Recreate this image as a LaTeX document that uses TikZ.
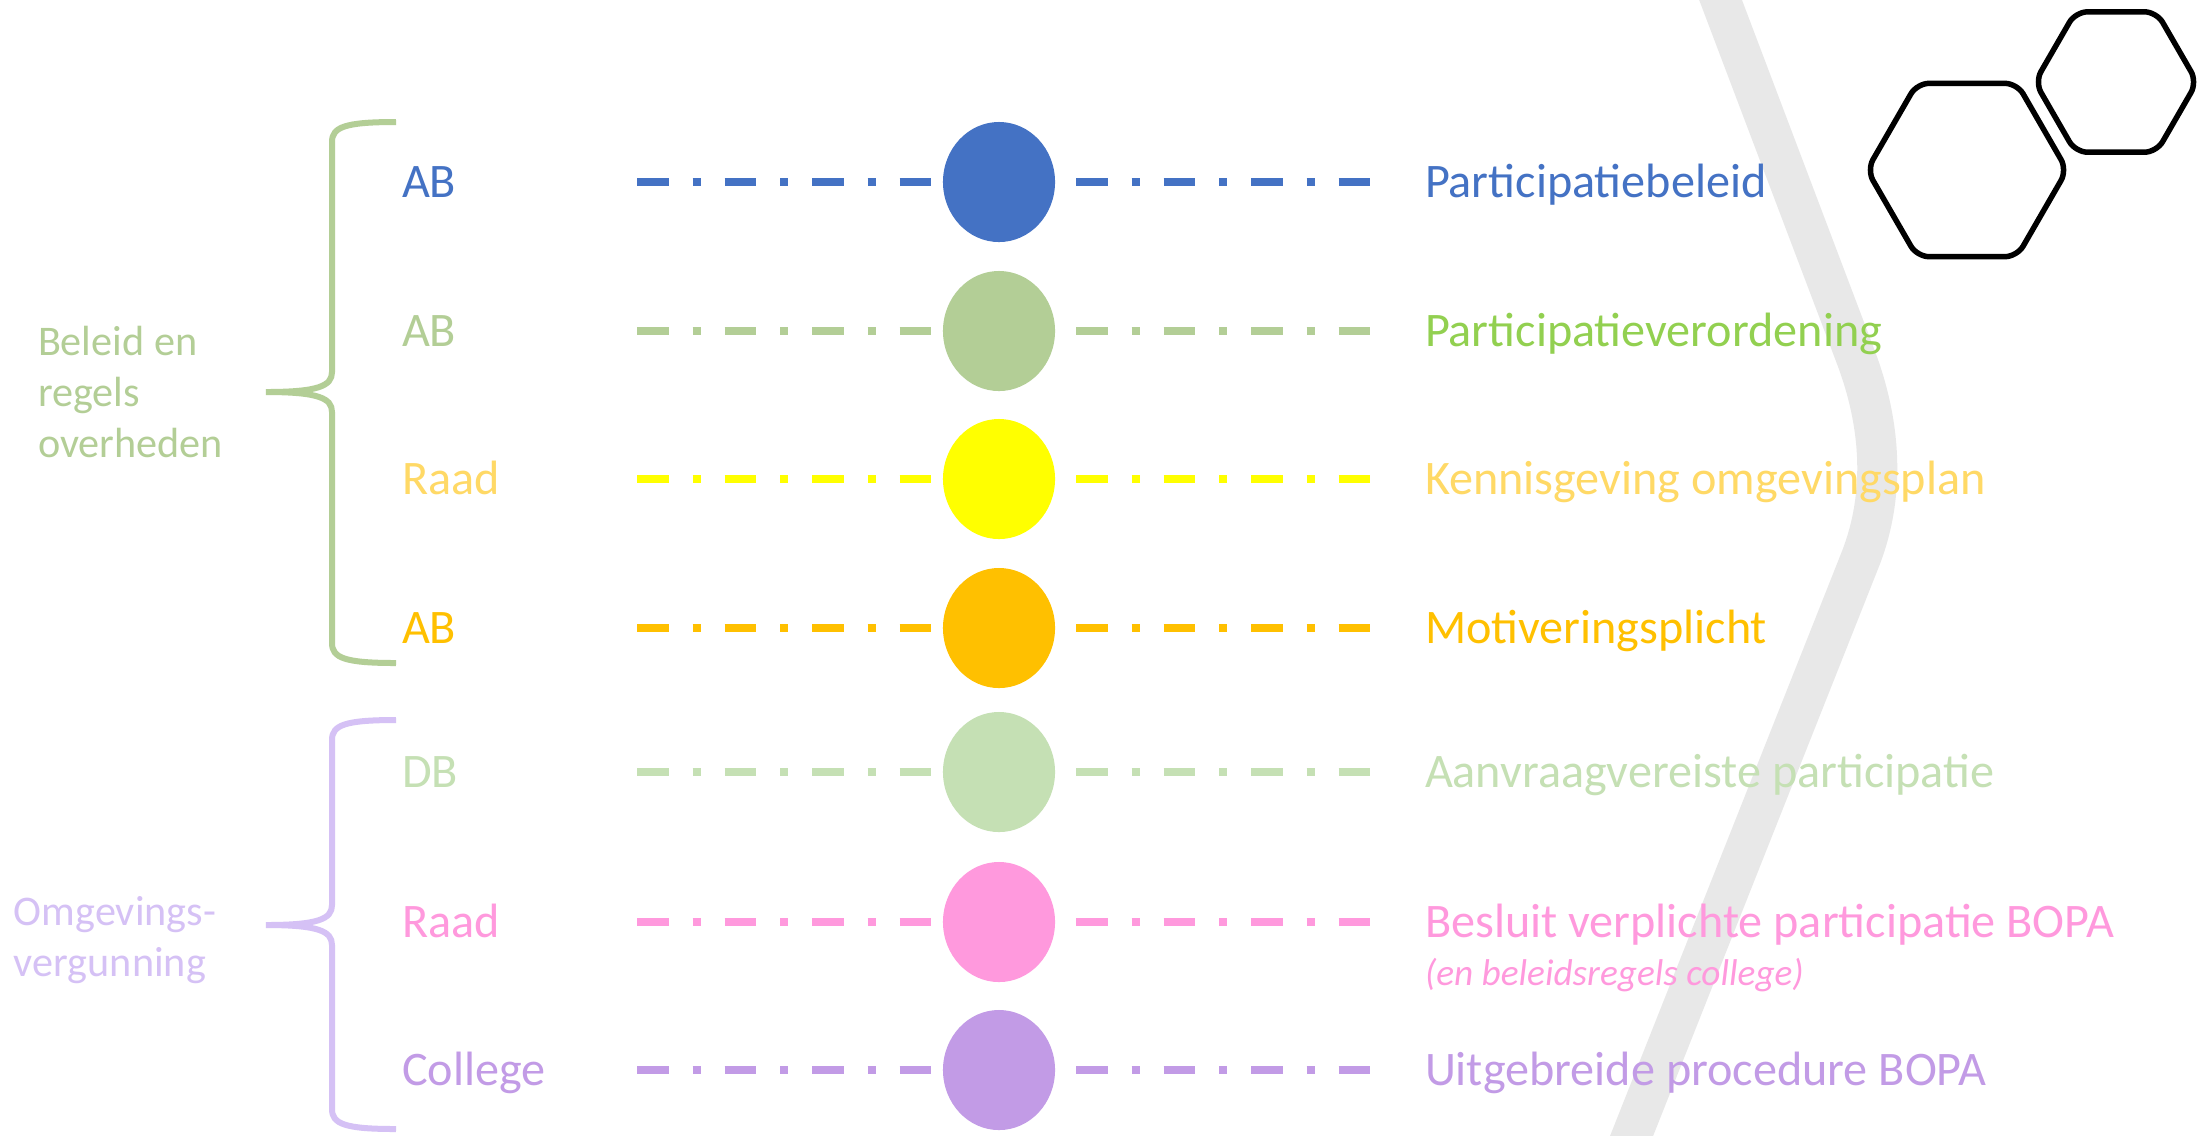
\documentclass[tikz,border=0pt]{standalone}
\usepackage{fontspec}
\setmainfont{Carlito}
\usetikzlibrary{shapes.geometric}

\definecolor{blueC}{HTML}{4472C4}
\definecolor{greenC}{HTML}{B3CE96}
\definecolor{greenT}{HTML}{92D050}
\definecolor{yellowC}{HTML}{FFFF00}
\definecolor{goldT}{HTML}{FFD966}
\definecolor{orangeC}{HTML}{FFC000}
\definecolor{lgreenC}{HTML}{C5E0B4}
\definecolor{pinkC}{HTML}{FF99DD}
\definecolor{purpleC}{HTML}{C29BE6}
\definecolor{braceP}{HTML}{D5C1F5}
\definecolor{bandG}{HTML}{E8E8E8}

\begin{document}
\begin{tikzpicture}[x=0.01cm,y=-0.01cm,
        every node/.style={inner sep=0pt,outer sep=0pt},
        bol/.style={ellipse,fill=#1,minimum width=1.12cm,minimum height=1.2cm},
        lijn/.style={draw=#1,line width=0.075cm,dash pattern=on 0.315cm off 0.24cm on 0.08cm off 0.24cm},
        lbl/.style={anchor=west,text=#1,font=\fontsize{13.7}{16}\selectfont,text height=10.2pt,text depth=1.4pt},
        groep/.style={anchor=west,align=left,text=#1,font=\fontsize{12}{14.5}\selectfont},
        beugel/.style={draw=#1,line width=0.06cm},
        hexa/.style={regular polygon,regular polygon sides=6,draw,line width=0.055cm,rounded corners=0.12cm}]

    \path[use as bounding box,fill=white] (0,0) rectangle (2197,1135);

    % grijze band
    \draw[bandG,line width=0.4cm] (1713,-20) -- (1855,355) .. controls (1880,420) and (1887,492) .. (1860,560) -- (1624,1155);

    % zeshoeken
    \node[hexa,minimum size=2cm] (hexG) at (1967,170) {};
    \node[hexa,minimum size=1.62cm] (hexK) at (2116,82) {};

    % accolades
    \draw[beugel=greenC] (396,122) .. controls (345,122) and (332,127) .. (332,142) -- (332,372)
        .. controls (332,386) and (318,392) .. (266,392) .. controls (318,392) and (332,398) .. (332,412)
        -- (332,643) .. controls (332,658) and (345,663) .. (396,663);
    \draw[beugel=braceP] (396,720) .. controls (345,720) and (332,725) .. (332,740) -- (332,905)
        .. controls (332,919) and (318,925) .. (266,925) .. controls (318,925) and (332,931) .. (332,945)
        -- (332,1109) .. controls (332,1124) and (345,1129) .. (396,1129);

    \node[groep=greenC] (grpBeleid) at (38,392) {Beleid en\\regels\\overheden};
    \node[groep=braceP] (grpOmg) at (14,940) {Omgevings-\\vergunning};

    % rijen
    \foreach \y/\bc/\rc/\tc/\rol/\tekst [count=\i] in {
            182/blueC/blueC/blueC/AB/Participatiebeleid,
            331/greenC/greenC/greenT/AB/Participatieverordening,
            479/yellowC/goldT/goldT/Raad/Kennisgeving omgevingsplan,
            628/orangeC/orangeC/orangeC/AB/Motiveringsplicht,
            772/lgreenC/lgreenC/lgreenC/DB/Aanvraagvereiste participatie,
            922/pinkC/pinkC/pinkC/Raad/Besluit verplichte participatie BOPA,
            1070/purpleC/purpleC/purpleC/College/Uitgebreide procedure BOPA}
    {
        \node[lbl=\rc] (rol\i) at (402,\y) {\rol};
        \node[bol=\bc] (bol\i) at (999,\y) {};
        \node[lbl=\tc] (tekst\i) at (1425,\y) {\tekst};
        \coordinate (links\i) at (637,\y);
        \coordinate (rechts\i) at (1370,\y);
        \draw[lijn=\bc,shorten >=0.11cm] (links\i) -- (bol\i);
        \draw[lijn=\bc,shorten <=0.21cm] (bol\i) -- (rechts\i);
    }

    \node[anchor=west,text=pinkC,font=\fontsize{10.6}{12}\selectfont\itshape] (tekst6b) at (1425,975) {(en beleidsregels college)};
\end{tikzpicture}
\end{document}
